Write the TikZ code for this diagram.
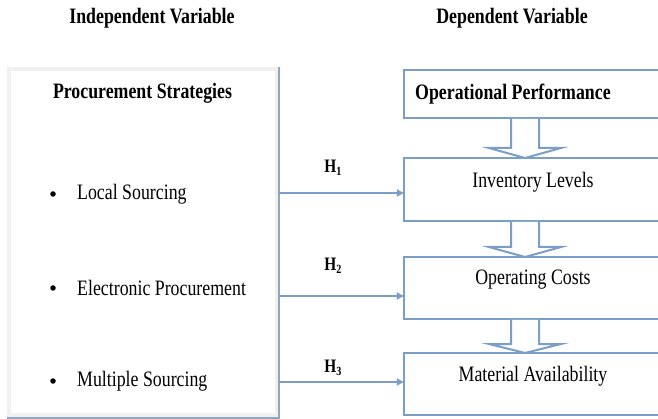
\documentclass[tikz,border=0pt]{standalone}
\usepackage{fontspec}
\setmainfont{Liberation Serif}[FakeStretch=0.81]
\usetikzlibrary{arrows.meta}
\definecolor{lineblue}{RGB}{122,158,200}
\definecolor{bandgray}{RGB}{240,240,240}
\definecolor{edgegray}{RGB}{150,165,190}
\begin{document}
\begin{tikzpicture}[x=1pt,y=-1pt,
  txt/.style={font=\fontsize{22}{24}\selectfont, inner sep=0pt},
  btxt/.style={font=\fontsize{22}{24}\selectfont\bfseries, inner sep=0pt},
  hlab/.style={font=\fontsize{19}{20}\selectfont\bfseries, inner sep=0pt},
  bul/.style={circle, fill=black, inner sep=0pt, minimum size=5.5pt},
  dvbox/.style={draw=lineblue, line width=2.6pt, fill=white},
  harrow/.style={draw=lineblue, line width=2pt, -{Triangle[length=7pt,width=7pt]}},
  hollow/.style={draw=lineblue, line width=2pt, fill=white, line join=miter}
]
\useasboundingbox (0,0) rectangle (658,419);
\begin{scope}
\clip (0,0) rectangle (658,419);
% left box
\fill[bandgray] (7,67) rectangle (279,418);
\fill[white] (11,71) rectangle (275,413);
\node[inner sep=0pt, minimum width=272pt, minimum height=351pt] (lb) at (143,242.5) {};
\draw[edgegray, line width=1.2pt] (279,67) -- (279,418) -- (7,418);
% headers
\node[btxt] (hiv) at (152,18) {Independent Variable};
\node[btxt] (hdv) at (512,18) {Dependent Variable};
% left texts
\node[btxt] (ps) at (142.5,93) {Procurement Strategies};
\node[bul] (b1) at (53,194) {};
\node[txt, anchor=west] (t1) at (77,194) {Local Sourcing};
\node[bul] (b2) at (53,288) {};
\node[txt, anchor=west] (t2) at (77,288) {Electronic Procurement};
\node[bul] (b3) at (53,381) {};
\node[txt, anchor=west] (t3) at (77,381) {Multiple Sourcing};
% right boxes
\draw[dvbox] (404,70) rectangle (720,118);
\draw[dvbox] (404,158) rectangle (720,221);
\draw[dvbox] (404,257) rectangle (720,319);
\draw[dvbox] (404,353) rectangle (720,415);
\node[inner sep=0pt, minimum width=316pt, minimum height=48pt] (op) at (562,94) {};
\node[inner sep=0pt, minimum width=316pt, minimum height=63pt] (il) at (562,189.5) {};
\node[inner sep=0pt, minimum width=316pt, minimum height=62pt] (oc) at (562,288) {};
\node[inner sep=0pt, minimum width=316pt, minimum height=62pt] (ma) at (562,384) {};
\node[btxt, anchor=west] (opt) at (415,94) {Operational Performance};
\node[txt] (ilt) at (533,182) {Inventory Levels};
\node[txt] (oct) at (533,280) {Operating Costs};
\node[txt] (mat) at (533,376) {Material Availability};
% hollow arrows
\draw[hollow] (511,119) -- (511,148) -- (489,148) -- (525,158) -- (561,148) -- (539,148) -- (539,119);
\draw[hollow] (511,222) -- (511,247) -- (489,247) -- (525,257) -- (561,247) -- (539,247) -- (539,222);
\draw[hollow] (511,320) -- (511,344) -- (489,344) -- (525,353) -- (561,344) -- (539,344) -- (539,320);
% H arrows
\coordinate (a1) at (279,193);
\coordinate (a2) at (279,296);
\coordinate (a3) at (279,382);
\draw[harrow] (a1) -- (il.west |- a1);
\draw[harrow] (a2) -- (oc.west |- a2);
\draw[harrow] (a3) -- (ma.west |- a3);
\node[hlab] (h1) at (333,168) {H\raisebox{-0.3ex}{\fontsize{12.5}{13}\selectfont 1}};
\node[hlab] (h2) at (333,266) {H\raisebox{-0.3ex}{\fontsize{12.5}{13}\selectfont 2}};
\node[hlab] (h3) at (333,368) {H\raisebox{-0.3ex}{\fontsize{12.5}{13}\selectfont 3}};
\end{scope}
\end{tikzpicture}
\end{document}
